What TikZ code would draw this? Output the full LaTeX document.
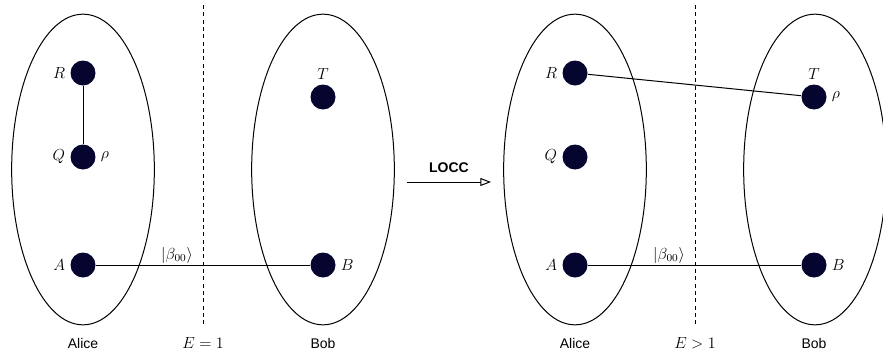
\documentclass[tikz,border=0pt]{standalone}
\usepackage{amsmath}
\usepackage{fontspec}
\setsansfont{Liberation Sans}
\usetikzlibrary{shapes.geometric,arrows.meta}
\definecolor{navy}{RGB}{5,5,48}
\tikzset{
	qdot/.style 2 args={circle,inner sep=0pt,minimum size=18.75pt,fill=navy,label=#1:{$#2$}},
	party/.style={ellipse,draw,line width=0.75pt,minimum width=107pt,minimum height=233pt},
	cut/.style={dashed,dash pattern=on 3pt off 2.5pt,line width=0.75pt},
	who/.style={font=\sffamily\fontsize{10.5}{12}\selectfont}
}
\begin{document}
\begin{tikzpicture}[x=0.75pt,y=-0.75pt,line width=0.75pt,font=\fontsize{11.7}{14}\selectfont]
	\useasboundingbox (0,0) rectangle (883,354);

	% before
	\node [party] (aliceL) at (83,169.5) {};
	\node [party] (bobL) at (323,169.5) {};
	\coordinate (cutLtop) at (203,5);
	\coordinate (cutLbot) at (203,325);
	\draw [cut] (cutLtop) -- (cutLbot);

	\node [qdot={180}{R}] (R1) at (83,73) {};
	\node [qdot={180}{Q},label=0:{$\rho$}] (Q1) at (83,157) {};
	\node [qdot={180}{A}] (A1) at (83,265) {};
	\node [qdot={90}{T},label distance=1pt] (T1) at (323,97) {};
	\node [qdot={0}{B}] (B1) at (323,265) {};

	\draw (R1) -- (Q1);
	\draw (A1) -- (B1);
	\node (bellL) at (177,255) {$|\beta_{00}\rangle$};

	\node [who] (aliceLtxt) at (83,343) {Alice};
	\node (entL) at (203,343) {$E=1$};
	\node [who] (bobLtxt) at (323,343) {Bob};

	% LOCC
	\coordinate (loccA) at (407,182);
	\coordinate (loccB) at (491,182);
	\draw [-{Triangle[open,length=8pt,width=6pt]}] (loccA) -- (loccB);
	\node [font=\sffamily\bfseries\fontsize{10.5}{12}\selectfont] (locc) at (449,168) {LOCC};

	% after
	\node [party] (aliceR) at (575,169.5) {};
	\node [party] (bobR) at (815,169.5) {};
	\coordinate (cutRtop) at (695,5);
	\coordinate (cutRbot) at (695,325);
	\draw [cut] (cutRtop) -- (cutRbot);

	\node [qdot={180}{R}] (R2) at (575,73) {};
	\node [qdot={180}{Q}] (Q2) at (575,157) {};
	\node [qdot={180}{A}] (A2) at (575,265) {};
	\node [qdot={90}{T},label distance=1pt,label=0:{$\rho$}] (T2) at (814,97) {};
	\node [qdot={0}{B}] (B2) at (814,265) {};

	\draw (R2) -- (T2);
	\draw (A2) -- (B2);
	\node (bellR) at (669,255) {$|\beta_{00}\rangle$};

	\node [who] (aliceRtxt) at (575,343) {Alice};
	\node (entR) at (695,343) {$E>1$};
	\node [who] (bobRtxt) at (814,343) {Bob};
\end{tikzpicture}
\end{document}
